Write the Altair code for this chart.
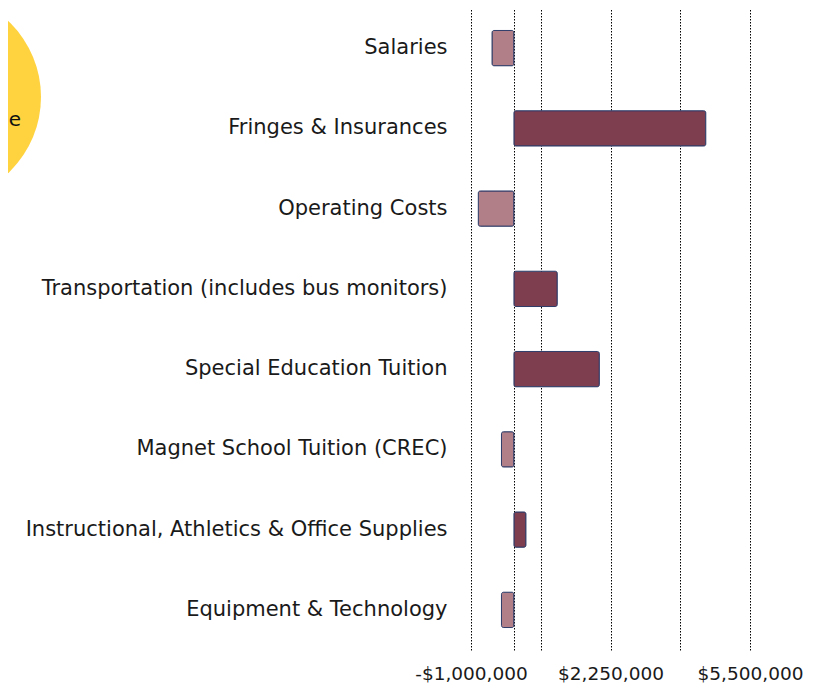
import altair as alt
import pandas as pd

categories = [
    "Salaries",
    "Fringes & Insurances",
    "Operating Costs",
    "Transportation (includes bus monitors)",
    "Special Education Tuition",
    "Magnet School Tuition (CREC)",
    "Instructional, Athletics & Office Supplies",
    "Equipment & Technology",
]
values = [-510000, 4470000, -830000, 1010000, 1990000, -290000, 280000, -290000]

grid_values = [-1000000, 0, 625000, 2250000, 3875000, 5500000]
tick_values = [-1000000, 2250000, 5500000]
tick_labels = ["-$1,000,000", "$2,250,000", "$5,500,000"]

note_text = ["e"]

df = pd.DataFrame({"category": categories, "value": values})

label_expr = ""
for v, l in zip(tick_values, tick_labels):
    label_expr += f"datum.value == {v} ? '{l}' : "
label_expr += "''"

font = "DejaVu Sans"

bars = alt.Chart(df).mark_bar(
    stroke="#2F3C68", strokeWidth=1, cornerRadius=2
).encode(
    x=alt.X(
        "value:Q",
        scale=alt.Scale(domain=[-1000000, 5500000], nice=False, zero=True),
        axis=alt.Axis(
            values=grid_values,
            labelExpr=label_expr,
            title=None,
            domain=False,
            ticks=False,
            grid=True,
            gridColor="#000000",
            gridDash=[1.5, 1.5],
            gridWidth=1,
            labelFontSize=18.5,
            labelFont=font,
            labelColor="#1a1a1a",
            labelPadding=14,
            labelFlush=False,
        ),
    ),
    y=alt.Y(
        "category:N",
        sort=categories,
        scale=alt.Scale(paddingInner=0.56, paddingOuter=0.28),
        axis=alt.Axis(
            title=None,
            domain=False,
            ticks=False,
            labelFontSize=21,
            labelFont=font,
            labelColor="#1a1a1a",
            labelPadding=24,
            labelLimit=1000,
        ),
    ),
    color=alt.condition("datum.value > 0", alt.value("#7F3D50"), alt.value("#B07F88")),
)

circle = alt.Chart(pd.DataFrame({"k": [0]})).mark_circle(
    color="#FFD340", opacity=1, size=43680
).encode(x=alt.value(-534.5), y=alt.value(89))

note = alt.Chart(pd.DataFrame({"t": note_text})).mark_text(
    align="right", baseline="middle", fontSize=20, fontWeight=500, font=font, color="#111111"
).encode(x=alt.value(-450), y=alt.value(112), text="t:N")

chart = alt.layer(circle, bars, note).properties(
    width=279,
    height=642,
    autosize=alt.AutoSizeParams(type="none"),
    padding={"left": 463, "top": 0, "right": 60, "bottom": 37},
).configure_view(stroke=None)

chart.save("out.html", embed_options={"renderer": "svg", "actions": False})
